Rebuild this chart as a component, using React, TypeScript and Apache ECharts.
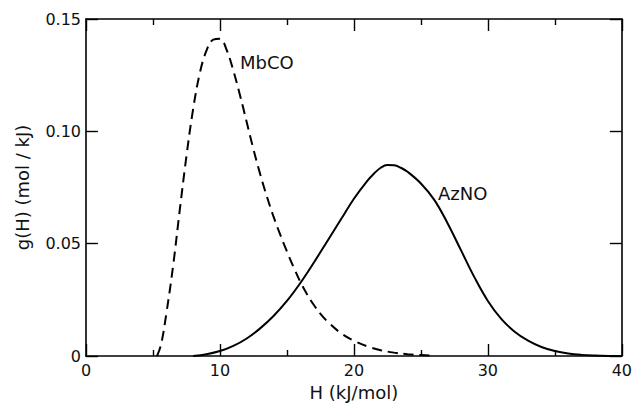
import React, { useEffect, useRef } from "react";
import * as echarts from "echarts";

const mbcoH = [5.3, 5.6, 6, 6.5, 7, 7.5, 8, 8.5, 9, 9.5, 10, 10.5, 11, 11.5, 12, 12.5, 13, 13.5, 14, 14.5, 15, 15.5, 16, 16.5, 17, 17.5, 18, 19, 20, 21, 22, 23, 24, 25, 26];
const mbcoG = [0, 0.005, 0.019, 0.040, 0.065, 0.089, 0.110, 0.126, 0.136, 0.1408, 0.1412, 0.1362, 0.127, 0.116, 0.104, 0.092, 0.081, 0.071, 0.062, 0.054, 0.0465, 0.0395, 0.033, 0.0275, 0.0228, 0.0188, 0.0155, 0.0103, 0.0068, 0.0043, 0.0026, 0.0015, 0.0008, 0.0004, 0.0001];

const aznoH = [8, 9, 10, 11, 12, 13, 14, 15, 16, 17, 18, 19, 20, 21, 21.5, 22, 22.5, 23, 23.5, 24, 25, 26, 27, 28, 29, 30, 31, 32, 33, 34, 35, 36, 37, 38, 39, 40];
const aznoG = [0, 0.0008, 0.0022, 0.0045, 0.0078, 0.0123, 0.0178, 0.0245, 0.0325, 0.0415, 0.051, 0.0605, 0.0700, 0.0780, 0.0812, 0.0838, 0.0850, 0.0849, 0.0838, 0.0820, 0.0768, 0.0695, 0.0590, 0.0470, 0.0350, 0.0245, 0.0165, 0.0108, 0.0068, 0.0040, 0.0022, 0.0011, 0.0005, 0.0002, 0.00005, 0];

const xTicks = [0, 10, 20, 30, 40];
const yTicks = [0, 0.05, 0.1, 0.15];
const labels = [
  { text: "MbCO", h: 11.5, g: 0.1306 },
  { text: "AzNO", h: 26.27, g: 0.0725 },
];

const FONT = "DejaVu Sans";
const INK = "#111";

export default function App() {
  const ref = useRef<HTMLDivElement>(null);
  useEffect(() => {
    if (!ref.current) return;
    const chart = echarts.init(ref.current, null, { renderer: "svg" });
    const mkLine = () => ({ show: true, onZero: false, lineStyle: { color: "#000", width: 1.6 } });
    const mkTick = () => ({ show: true, inside: true, length: 12, lineStyle: { color: "#000", width: 1.4 } });
    const mkMinor = () => ({ show: true, splitNumber: 2, length: 6, lineStyle: { color: "#000", width: 1.4 } });
    const xBase = () => ({
      type: "value",
      min: xTicks[0],
      max: xTicks[xTicks.length - 1],
      interval: xTicks[1] - xTicks[0],
      axisLine: mkLine(),
      axisTick: mkTick(),
      minorTick: mkMinor(),
      splitLine: { show: false },
      minorSplitLine: { show: false },
    });
    const yBase = () => ({
      type: "value",
      min: yTicks[0],
      max: yTicks[yTicks.length - 1],
      interval: yTicks[1] - yTicks[0],
      axisLine: mkLine(),
      axisTick: mkTick(),
      splitLine: { show: false },
    });
    const labelStyle = { fontFamily: FONT, fontSize: 18, color: INK };
    chart.setOption({
      animation: false,
      backgroundColor: "#fff",
      grid: { left: 86, right: 13, top: 19, bottom: 47, containLabel: false },
      xAxis: [
        {
          ...xBase(),
          position: "bottom",
          name: "H (kJ/mol)",
          nameLocation: "middle",
          nameGap: 27,
          nameTextStyle: { fontFamily: FONT, fontSize: 18, color: INK },
          axisLabel: { fontFamily: FONT, fontSize: 16, color: INK, margin: 6 },
        },
        { ...xBase(), position: "top", axisLabel: { show: false } },
      ],
      yAxis: [
        {
          ...yBase(),
          position: "left",
          name: "g(H) (mol / kJ)",
          nameLocation: "middle",
          nameGap: 55,
          nameTextStyle: { fontFamily: FONT, fontSize: 18, color: INK },
          axisLabel: {
            fontFamily: FONT,
            fontSize: 16,
            color: INK,
            margin: 5,
            formatter: (v: number) => (v === 0 ? "0" : v.toFixed(2)),
          },
        },
        { ...yBase(), position: "right", axisLabel: { show: false } },
      ],
      series: [
        {
          type: "line",
          name: "MbCO",
          data: mbcoH.map((h, i) => [h, mbcoG[i]]),
          smooth: 0.4,
          symbol: "none",
          lineStyle: { color: "#000", width: 2, type: [10, 6] },
          markPoint: {
            symbol: "circle",
            symbolSize: 0,
            data: [
              {
                coord: [labels[0].h, labels[0].g],
                label: { show: true, formatter: labels[0].text, position: "right", distance: 0, ...labelStyle },
              },
            ],
          },
        },
        {
          type: "line",
          name: "AzNO",
          data: aznoH.map((h, i) => [h, aznoG[i]]),
          smooth: 0.4,
          symbol: "none",
          lineStyle: { color: "#000", width: 2 },
          markPoint: {
            symbol: "circle",
            symbolSize: 0,
            data: [
              {
                coord: [labels[1].h, labels[1].g],
                label: { show: true, formatter: labels[1].text, position: "right", distance: 0, ...labelStyle },
              },
            ],
          },
        },
      ],
    });
    return () => chart.dispose();
  }, []);
  return <div ref={ref} style={{ width: 635, height: 406, position: "absolute", left: 0, top: 0 }} />;
}
